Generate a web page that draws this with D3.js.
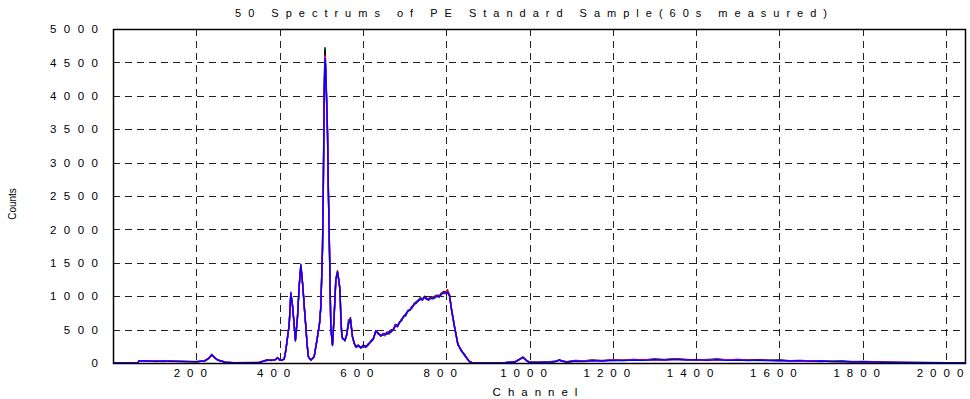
<!DOCTYPE html>
<html><head><meta charset="utf-8">
<script src="https://cdn.jsdelivr.net/npm/d3@7"></script>
<style>
body{margin:0;background:#fff}
svg text{font-family:"Liberation Sans",Arial,sans-serif;fill:#000}
</style>
</head><body><svg id="c" width="970" height="399"></svg>
<script>
const channels = [
0,60,62,80,100,120,140,160,180,200,
220,230,237,244,251,260,270,290,320,350,
371,380,390,395,400,405,411,415,419,423,
427,431,434,438,443,447,451,454,457,460,
463,466,469,475,483,491,496,499,503,505,
507,509,511,513,515,517,520,523,527,531,
535,539,542,545,547,549,551,557,561,565,
570,575,579,583,589,595,601,607,613,619,
625,631,637,643,648,653,658,663,668,673,
678,683,688,693,698,703,708,713,718,723,
728,733,738,743,748,753,758,763,768,773,
778,783,788,793,798,803,808,813,820,828,
836,844,850,856,862,868,900,940,965,975,
984,992,1000,1020,1050,1065,1071,1078,1090,1110,
1130,1150,1175,1200,1225,1250,1275,1300,1325,1350,
1375,1400,1425,1450,1475,1500,1525,1550,1575,1600,
1625,1650,1675,1700,1725,1750,1775,1800,1850,1900,
1950,2000,2048];

const seriesBlack = [
0,0,35,25,30,25,30,20,25,15,
35,75,130,75,50,25,15,5,5,10,
50,35,55,75,50,45,55,200,390,560,
1060,850,650,330,700,1160,1480,1270,1050,770,
550,290,100,40,100,400,610,850,1750,2700,
4100,4720,4400,3950,3500,2650,1650,530,260,720,
1260,1380,1240,1100,700,460,380,330,430,590,
680,400,290,250,270,220,270,250,270,330,
370,470,450,400,445,425,465,450,500,490,
580,560,600,660,690,740,770,800,850,870,
920,940,950,960,1000,970,940,990,980,1000,
1010,1010,1020,1070,1060,1080,1020,800,550,290,
180,130,60,25,5,0,5,5,20,55,
90,45,15,5,20,30,50,25,20,40,
30,45,35,50,40,55,45,60,50,65,
55,45,50,60,45,55,45,50,40,45,
35,40,30,35,25,30,20,25,15,5,
8,5,5];

const seriesGreen = [
0,0,25,35,20,30,25,30,20,25,
25,65,120,85,40,35,10,5,5,5,
40,45,45,85,40,45,65,185,370,580,
1030,870,630,350,680,1140,1450,1290,1030,790,
530,270,90,50,90,380,590,830,1680,2650,
4000,4690,4350,3850,3400,2550,1580,510,280,690,
1230,1350,1260,1080,680,440,360,350,410,650,
650,380,310,230,250,240,250,230,290,310,
350,490,430,420,420,405,455,430,480,510,
550,565,620,630,710,700,790,800,820,900,
890,940,990,950,980,950,970,960,990,970,
1020,980,1050,1040,1070,1050,1000,780,530,270,
200,110,75,15,5,0,0,5,10,45,
80,35,10,15,10,20,40,35,10,25,
20,30,40,35,45,40,50,45,55,50,
50,40,55,45,50,40,40,35,45,30,
35,25,30,20,30,20,25,15,10,10,
5,5,5];

const seriesRed = [
0,0,30,30,30,20,30,25,25,20,
30,70,120,80,45,30,10,5,10,5,
45,45,50,80,45,40,60,195,375,565,
1050,860,640,340,700,1150,1440,1280,1040,780,
545,285,95,45,95,395,600,845,1700,2600,
3950,4600,4320,3880,3460,2600,1620,520,270,710,
1250,1370,1240,1090,690,450,370,340,420,580,
670,395,300,245,255,235,265,245,275,325,
365,475,445,405,425,435,445,470,460,505,
570,550,600,650,690,730,770,800,840,875,
910,925,975,950,985,960,945,985,970,995,
990,1000,1040,1060,1050,1100,1015,795,545,285,
190,125,70,20,5,0,0,5,15,50,
85,40,10,10,15,25,45,30,15,35,
30,40,35,45,40,50,45,55,50,60,
50,45,45,55,45,50,40,45,40,35,
35,30,30,25,25,20,20,15,10,8,
5,5,5];

const seriesMagenta = [
0,0,30,25,25,30,20,25,20,20,
30,70,125,80,45,30,15,5,5,5,
45,40,50,80,45,40,60,190,385,575,
1045,855,645,345,695,1155,1465,1275,1045,775,
540,280,95,45,95,390,605,840,1710,2620,
3920,4580,4310,3910,3440,2610,1600,520,275,705,
1245,1355,1255,1095,685,455,365,345,425,575,
665,385,305,235,265,225,255,235,285,315,
355,485,435,415,435,420,445,465,480,495,
565,540,615,645,695,725,775,795,835,870,
905,935,955,945,985,960,955,970,965,980,
1005,995,1025,1045,1045,1055,1005,785,535,275,
195,115,65,20,5,0,0,5,15,50,
85,40,10,10,15,25,45,30,15,30,
25,40,30,45,35,50,40,50,45,55,
50,50,40,50,45,45,40,40,35,40,
30,30,25,30,20,20,15,20,10,8,
5,5,5];

const seriesBlue = [
0,0,30,30,25,30,25,25,20,20,
30,70,125,80,45,30,10,5,5,5,
45,40,50,80,45,40,60,190,380,570,
1040,860,640,340,690,1150,1460,1280,1040,780,
540,280,95,45,95,390,600,840,1700,2600,
3900,4560,4300,3900,3450,2600,1600,520,270,700,
1240,1360,1250,1090,690,450,370,340,420,570,
660,390,300,240,260,230,260,240,280,320,
360,480,440,410,420,440,430,460,470,500,
560,545,610,640,700,720,780,790,830,880,
900,930,960,940,990,955,950,975,960,985,
1000,990,1030,1050,1040,1060,1010,790,540,280,
190,120,70,20,5,0,0,5,15,50,
85,40,10,10,15,25,45,30,15,30,
25,35,30,40,35,45,40,50,45,55,
45,50,40,50,40,45,35,45,35,40,
30,35,25,30,20,25,15,20,10,8,
5,5,5];

const seriesList = [seriesGreen, seriesBlack, seriesRed, seriesMagenta, seriesBlue];
const seriesColors = ["#00a000", "#000000", "#ff0000", "#ff00ff", "#0000ff"];

const xTicks = [200,400,600,800,1000,1200,1400,1600,1800,2000];
const yTicks = [0,500,1000,1500,2000,2500,3000,3500,4000,4500,5000];
const titleText = "50 Spectrums of PE Standard Sample(60s measured)";
const xLabel = "Channel";
const yLabel = "Counts";

const W = 970, H = 399;
const m = {left: 113, right: 4, top: 29, bottom: 36};
const svg = d3.select("#c");
const x = d3.scaleLinear().domain([0, 2048]).range([m.left, W - m.right]);
const y = d3.scaleLinear().domain([0, 5000]).range([H - m.bottom, m.top]);
const LS = 7.5;

// grid
const g = svg.append("g");
g.selectAll("line.vx").data(xTicks).join("line")
  .attr("x1", d => Math.round(x(d)) + 0.5).attr("x2", d => Math.round(x(d)) + 0.5)
  .attr("y1", m.top).attr("y2", H - m.bottom)
  .attr("stroke", "#222").attr("stroke-width", 1).attr("stroke-dasharray", "7,5");
g.selectAll("line.hy").data(yTicks.filter(d => d > 0 && d < 5000)).join("line")
  .attr("y1", d => Math.round(y(d)) + 0.5).attr("y2", d => Math.round(y(d)) + 0.5)
  .attr("x1", m.left).attr("x2", W - m.right)
  .attr("stroke", "#222").attr("stroke-width", 1).attr("stroke-dasharray", "7,5");

// lines
const line = d3.line().x((d, i) => x(channels[i])).y(d => y(d));
svg.append("g").selectAll("path").data(seriesList).join("path")
  .attr("d", d => line(d))
  .attr("fill", "none")
  .attr("stroke", (d, i) => seriesColors[i])
  .attr("stroke-width", 1.4)
  .attr("stroke-linejoin", "round");

// frame
svg.append("rect")
  .attr("x", m.left + 0.5).attr("y", m.top + 0.5)
  .attr("width", W - m.left - m.right - 1).attr("height", H - m.top - m.bottom)
  .attr("fill", "none").attr("stroke", "#000").attr("stroke-width", 1.5);

// y axis labels
const yAxis = d3.axisLeft(y).tickValues(yTicks).tickSize(0).tickPadding(0).tickFormat(d3.format("d"));
const ya = svg.append("g").attr("transform", `translate(${98 + LS},0)`).call(yAxis);
ya.select(".domain").remove();
ya.selectAll("text").attr("font-size", "11.5px").attr("letter-spacing", LS + "px")
  .attr("font-family", "Liberation Sans, Arial, sans-serif").attr("fill", "#000");

// x axis labels
const xAxis = d3.axisBottom(x).tickValues(xTicks).tickSize(0).tickPadding(0).tickFormat(d3.format("d"));
const xa = svg.append("g").attr("transform", `translate(-3,369)`).call(xAxis);
xa.select(".domain").remove();
xa.selectAll("text").attr("font-size", "11.5px").attr("letter-spacing", "7px")
  .attr("font-family", "Liberation Sans, Arial, sans-serif").attr("fill", "#000");

// title
svg.append("text").attr("x", 531 + 3.5).attr("y", 17).attr("text-anchor", "middle")
  .attr("font-size", "11px").attr("letter-spacing", "7px").text(titleText);

// x label
svg.append("text").attr("x", 535 + 3.5).attr("y", 396).attr("text-anchor", "middle")
  .attr("font-size", "11.5px").attr("letter-spacing", "7px").text(xLabel);

// y label
svg.append("text").attr("transform", "translate(16,204) rotate(-90)").attr("text-anchor", "middle")
  .attr("font-size", "10px").text(yLabel);
</script>
</body></html>
